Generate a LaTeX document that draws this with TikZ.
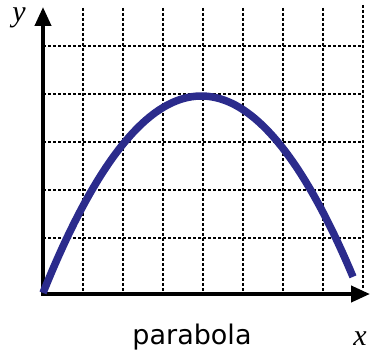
\documentclass[tikz,border=0pt]{standalone}
\usepackage{fontspec}
\setmainfont{Liberation Serif}
\newfontfamily\labelfont{DejaVu Sans}
\usetikzlibrary{arrows.meta}
\definecolor{curveblue}{RGB}{43,43,140}
\begin{document}
\begin{tikzpicture}[x=1pt,y=-1pt,
  gridline/.style={line width=2.6pt,dash pattern=on 2.6pt off 2.4pt},
  axisline/.style={line width=4pt,-{Triangle[length=19pt,width=16pt]}},
  curveline/.style={line width=7.5pt,curveblue},
  axislabel/.style={inner sep=0pt,anchor=base,text height=14pt,font=\fontsize{30}{30}\selectfont\itshape},
  caption/.style={inner sep=0pt,font=\labelfont\fontsize{27}{27}\selectfont}]
\useasboundingbox (0,0) rectangle (371,353);
\coordinate (O) at (43,293);
\coordinate (ytip) at (43,7);
\coordinate (xtip) at (370,294);
% grid
\foreach \gx in {83,123,...,323} \draw[gridline] (\gx,8) -- (\gx,293);
\draw[gridline] (363,5) -- (363,288);
\foreach \gy in {46,94,142,190,238} \draw[gridline] (43,\gy) -- (363,\gy);
% axes
\draw[axisline] (43,295) -- (ytip);
\draw[axisline] (41,294) -- (xtip);
% curve
\draw[curveline] plot[domain=43:353,samples=80,smooth] (\x,{96+0.00786*(\x-201.3)*(\x-201.3)});
% labels
\node[axislabel,text depth=7pt] (ylab) at (19,22) {y};
\node[axislabel,text depth=0pt] (xlab) at (360,345) {x};
\node[caption,anchor=base] (cap) at (192,344) {parabola};
\end{tikzpicture}
\end{document}
